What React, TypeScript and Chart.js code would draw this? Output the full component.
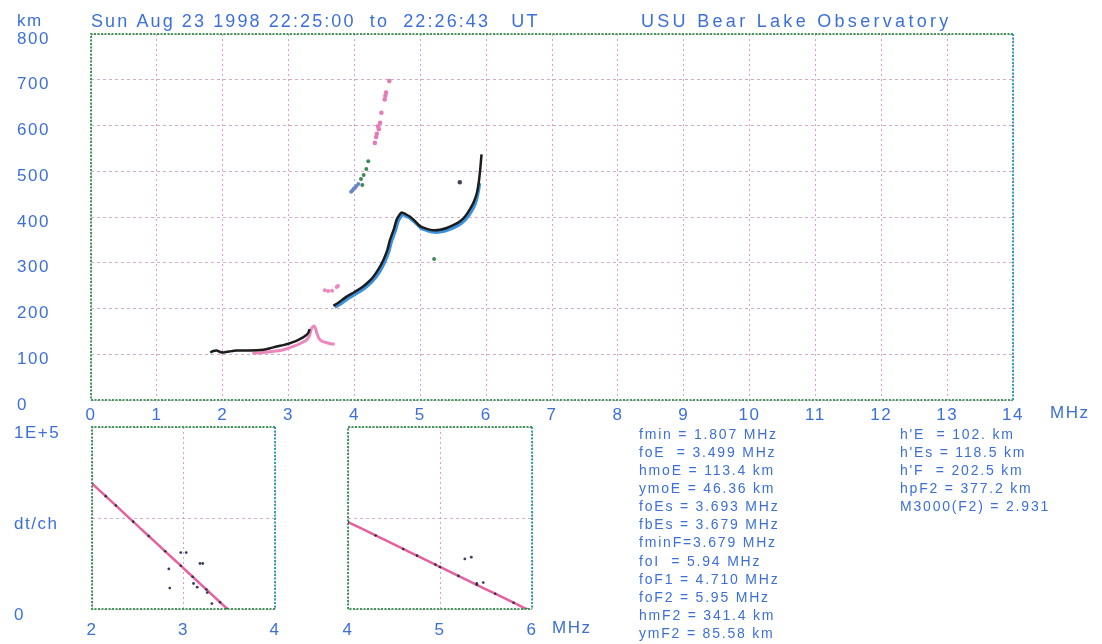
import React, { useEffect, useRef } from "react";
import { Chart, registerables } from "chart.js";
Chart.register(...registerables);

const TEXT_BLUE = "#3c70d8";
const FONT = "'Liberation Sans', Arial, sans-serif";
const FRAME_GREEN = "#3f9a57";
const FRAME_TEAL = "#2f9fb3";
const GRID_V = "rgba(214,140,205,0.85)";
const GRID_H = "rgba(200,160,190,0.85)";

// ---------- main ionogram (frequency MHz, virtual height km) ----------
const eBlackF = [1.81, 1.86, 1.91, 1.96, 2.01, 2.1, 2.21, 2.4, 2.62, 2.72, 2.82, 2.92, 3.02, 3.1, 3.17, 3.22, 3.27, 3.3, 3.32];
const eBlackH = [104, 107, 108, 105, 104, 106, 108, 108, 110, 113, 117, 120, 124, 128, 133, 137, 142, 147, 155];

const ePinkF = [2.45, 2.62, 2.75, 2.87, 2.97, 3.07, 3.17, 3.27, 3.32, 3.35, 3.39, 3.41, 3.43, 3.46, 3.5, 3.58, 3.64, 3.7];
const ePinkH = [102, 104, 106, 108, 112, 117, 123, 131, 142, 157, 162, 156, 146, 135, 129, 125, 123, 122];

const pinkLowF = [3.55, 3.6, 3.66, 3.73, 3.75];
const pinkLowH = [240, 238, 239, 247, 249];

const fBlackF = [3.68, 3.75, 3.88, 4.0, 4.13, 4.22, 4.29, 4.37, 4.44, 4.5, 4.54, 4.6, 4.64, 4.69, 4.72, 4.78, 4.84, 4.92, 4.995, 5.1, 5.2, 5.3, 5.4, 5.5, 5.6, 5.68, 5.75, 5.81, 5.86, 5.89, 5.91, 5.93];
const fBlackH = [206, 212, 226, 236, 248, 259, 270, 287, 306, 328, 350, 374, 394, 406, 410, 406, 401, 391, 380, 374, 371, 372, 376, 382, 390, 401, 416, 432, 453, 478, 504, 537];

const fBlueF = [3.7, 3.78, 3.9, 4.02, 4.15, 4.24, 4.31, 4.39, 4.46, 4.52, 4.56, 4.62, 4.66, 4.71, 4.74, 4.8, 4.86, 4.94, 5.01, 5.12, 5.22, 5.32, 5.42, 5.52, 5.62, 5.7, 5.77, 5.83, 5.87, 5.9];
const fBlueH = [203, 209, 222, 232, 244, 255, 266, 283, 302, 324, 346, 370, 390, 402, 406, 401, 396, 386, 376, 370, 367, 368, 372, 378, 386, 397, 411, 428, 449, 474];

const blueDotsF = [3.95, 3.97, 3.99, 4.01, 4.03, 4.06];
const blueDotsH = [455, 458, 462, 464, 468, 472];

const greenDotsF = [4.1, 4.12, 4.14, 4.18, 4.21, 5.21];
const greenDotsH = [483, 470, 492, 505, 522, 308];

const darkDotsF = [5.6];
const darkDotsH = [476];

const pinkHighF = [4.31, 4.33, 4.34, 4.36, 4.37, 4.39, 4.41, 4.46, 4.47, 4.48, 4.53];
const pinkHighH = [562, 575, 582, 598, 592, 606, 628, 657, 665, 672, 697];

// ---------- lower panels (dt/ch, 0 .. 1E+5) ----------
const leftLineF = [2.0, 2.15, 2.26, 2.45, 2.62, 2.8, 2.97, 3.1, 3.25, 3.4, 3.48];
const leftLineV = [69000, 62000, 56900, 48000, 40100, 31700, 23800, 17700, 10700, 3700, 0];
const leftDotsF = [2.97, 3.03, 3.18, 3.21, 2.85, 3.31, 3.11, 3.15, 2.84, 3.26];
const leftDotsV = [31000, 31000, 25000, 25000, 11500, 3000, 14000, 12000, 22000, 9000];

const rightLineF = [4.0, 4.3, 4.6, 4.75, 4.95, 5.0, 5.2, 5.4, 5.6, 5.8, 5.94];
const rightLineV = [47800, 40400, 33000, 29300, 24400, 23100, 18200, 13300, 8400, 3450, 0];
const rightDotsF = [5.27, 5.34, 5.4, 5.47];
const rightDotsV = [27500, 28500, 14000, 14500];

// ---------- text ----------
const titleLeft = "Sun Aug 23 1998 22:25:00  to  22:26:43   UT";
const titleRight = "USU Bear Lake Observatory";
const paramsLeft = [
  "fmin = 1.807 MHz",
  "foE  = 3.499 MHz",
  "hmoE = 113.4 km",
  "ymoE = 46.36 km",
  "foEs = 3.693 MHz",
  "fbEs = 3.679 MHz",
  "fminF=3.679 MHz",
  "foI  = 5.94 MHz",
  "foF1 = 4.710 MHz",
  "foF2 = 5.95 MHz",
  "hmF2 = 341.4 km",
  "ymF2 = 85.58 km",
];
const paramsRight = [
  "h'E  = 102. km",
  "h'Es = 118.5 km",
  "h'F  = 202.5 km",
  "hpF2 = 377.2 km",
  "M3000(F2) = 2.931",
];
const dtLabels: Record<number, string> = { 0: "0", 50000: "dt/ch", 100000: "1E+5" };

const pts = (xs: number[], ys: number[]) => xs.map((x, i) => ({ x, y: ys[i] }));

const spacingPlugin = {
  id: "spacing",
  beforeDraw(chart: any) {
    (chart.ctx as any).letterSpacing = "1.5px";
  },
};

const framePlugin = {
  id: "frame",
  afterDraw(chart: any) {
    const { ctx, chartArea } = chart;
    const { left, top, right, bottom } = chartArea;
    ctx.save();
    ctx.lineWidth = 2;
    ctx.setLineDash([2, 1.5]);
    ctx.strokeStyle = FRAME_GREEN;
    ctx.beginPath();
    ctx.moveTo(right, top);
    ctx.lineTo(left, top);
    ctx.lineTo(left, bottom);
    ctx.lineTo(right, bottom);
    ctx.stroke();
    ctx.strokeStyle = FRAME_TEAL;
    ctx.beginPath();
    ctx.moveTo(right, top);
    ctx.lineTo(right, bottom);
    ctx.stroke();
    ctx.restore();
  },
};

const mainTextPlugin = {
  id: "mainText",
  afterDraw(chart: any) {
    const ctx = chart.ctx as CanvasRenderingContext2D;
    ctx.save();
    ctx.fillStyle = TEXT_BLUE;
    ctx.textBaseline = "middle";
    ctx.textAlign = "left";
    ctx.font = `18px ${FONT}`;
    (ctx as any).letterSpacing = "2.1px";
    ctx.fillText(titleLeft, 91, 22);
    (ctx as any).letterSpacing = "3.3px";
    ctx.fillText(titleRight, 641, 22);
    (ctx as any).letterSpacing = "1.5px";
    ctx.font = `17px ${FONT}`;
    ctx.fillText("km", 17, 21);
    ctx.fillText("MHz", 1050, 413);
    (ctx as any).letterSpacing = "1.8px";
    ctx.font = `14px ${FONT}`;
    paramsLeft.forEach((s, i) => ctx.fillText(s, 639, 435 + i * 18.1));
    paramsRight.forEach((s, i) => ctx.fillText(s, 900, 435 + i * 18.1));
    ctx.restore();
  },
};

const smallTextPlugin = {
  id: "smallText",
  afterDraw(chart: any) {
    const ctx = chart.ctx as CanvasRenderingContext2D;
    ctx.save();
    ctx.fillStyle = TEXT_BLUE;
    ctx.textBaseline = "middle";
    ctx.textAlign = "left";
    (ctx as any).letterSpacing = "1.5px";
    ctx.font = `17px ${FONT}`;
    ctx.fillText("MHz", 222, 228);
    ctx.restore();
  },
};

const tickFont = { family: FONT, size: 17 };

function lineDs(data: any[], color: string, width: number, order: number) {
  return {
    data,
    showLine: true,
    borderColor: color,
    backgroundColor: color,
    borderWidth: width,
    pointRadius: 0,
    tension: 0.2,
    order,
  };
}
function dotDs(data: any[], color: string, r: number, order: number) {
  return {
    data,
    showLine: false,
    borderColor: color,
    backgroundColor: color,
    pointRadius: r,
    borderWidth: 0,
    order,
  };
}

function MainChart() {
  const ref = useRef<HTMLCanvasElement>(null);
  useEffect(() => {
    const chart = new Chart(ref.current!, {
      type: "scatter",
      data: {
        datasets: [
          lineDs(pts(eBlackF, eBlackH), "#1c1c1c", 2.5, 1),
          lineDs(pts(ePinkF, ePinkH), "#ec86bd", 3, 3),
          dotDs(pts(pinkLowF, pinkLowH), "#ec86bd", 2, 2),
          lineDs(pts(fBlackF, fBlackH), "#1c1c1c", 2.5, 1),
          lineDs(pts(fBlueF, fBlueH), "#3a92dc", 3.5, 4),
          dotDs(pts(blueDotsF, blueDotsH), "#6a86c8", 2, 2),
          dotDs(pts(greenDotsF, greenDotsH), "#3f8a5a", 2, 2),
          dotDs(pts(darkDotsF, darkDotsH), "#404060", 2.2, 2),
          dotDs(pts(pinkHighF, pinkHighH), "#e37cb4", 2.3, 2),
        ] as any,
      },
      options: {
        animation: false,
        responsive: false,
        events: [],
        layout: { padding: { left: 17, top: 34, right: 89, bottom: 214 } },
        plugins: { legend: { display: false }, tooltip: { enabled: false } },
        scales: {
          x: {
            type: "linear",
            min: 0,
            max: 14,
            afterFit: (s: any) => { s.height = 30; },
            ticks: { stepSize: 1, color: TEXT_BLUE, font: tickFont, padding: 5, maxRotation: 0, autoSkip: false },
            grid: { color: GRID_V, drawTicks: false, lineWidth: 1 },
            border: { display: false, dash: [2, 3] },
          },
          y: {
            type: "linear",
            min: 0,
            max: 800,
            afterFit: (s: any) => { s.width = 74; },
            ticks: { stepSize: 100, color: TEXT_BLUE, font: tickFont, crossAlign: "far", labelOffset: 5, padding: 0 },
            grid: { color: GRID_H, drawTicks: false, lineWidth: 1 },
            border: { display: false, dash: [3, 3] },
          },
        },
      } as any,
      plugins: [spacingPlugin, framePlugin, mainTextPlugin],
    });
    return () => chart.destroy();
  }, []);
  return <canvas ref={ref} width={1102} height={644} style={{ position: "absolute", left: 0, top: 0, width: 1102, height: 644 }} />;
}

function SmallChart(props: {
  left: number; width: number; fmin: number; fmax: number;
  lineF: number[]; lineV: number[]; dotsF: number[]; dotsV: number[];
  padLeft: number; padRight: number; showY: boolean; extra?: any;
}) {
  const ref = useRef<HTMLCanvasElement>(null);
  useEffect(() => {
    const plugins: any[] = [spacingPlugin, framePlugin];
    if (props.extra) plugins.push(props.extra);
    const chart = new Chart(ref.current!, {
      type: "scatter",
      data: {
        datasets: [
          dotDs(pts(props.lineF, props.lineV), "#303040", 1.3, 1),
          lineDs(pts(props.lineF, props.lineV), "#e5609f", 2.5, 2),
          dotDs(pts(props.dotsF, props.dotsV), "#354060", 1.4, 1),
        ] as any,
      },
      options: {
        animation: false,
        responsive: false,
        events: [],
        layout: { padding: { left: props.padLeft, top: 27, right: props.padRight, bottom: 0 } },
        plugins: { legend: { display: false }, tooltip: { enabled: false } },
        scales: {
          x: {
            type: "linear",
            min: props.fmin,
            max: props.fmax,
            afterFit: (s: any) => { s.height = 35; },
            ticks: { stepSize: 1, color: TEXT_BLUE, font: tickFont, padding: 11, maxRotation: 0, autoSkip: false },
            grid: { color: GRID_V, drawTicks: false, lineWidth: 1 },
            border: { display: false, dash: [2, 3] },
          },
          y: {
            type: "linear",
            min: 0,
            max: 100000,
            afterFit: (s: any) => { s.width = props.showY ? 78 : 0; },
            ticks: {
              display: props.showY,
              stepSize: 50000, color: TEXT_BLUE, font: tickFont, crossAlign: "far", labelOffset: 6, padding: 0,
              callback: (v: any) => dtLabels[v as number] ?? "",
            },
            grid: { color: GRID_H, drawTicks: false, lineWidth: 1 },
            border: { display: false, dash: [3, 3] },
          },
        },
      } as any,
      plugins,
    });
    return () => chart.destroy();
  }, []);
  return <canvas ref={ref} width={props.width} height={244} style={{ position: "absolute", left: props.left, top: 400, width: props.width, height: 244 }} />;
}

export default function App() {
  return (
    <div style={{ position: "absolute", left: 0, top: 0, width: 1102, height: 644, background: "#ffffff", overflow: "hidden" }}>
      <MainChart />
      <SmallChart left={0} width={320} fmin={2} fmax={4} lineF={leftLineF} lineV={leftLineV} dotsF={leftDotsF} dotsV={leftDotsV} padLeft={14} padRight={45} showY={true} />
      <SmallChart left={330} width={300} fmin={4} fmax={6} lineF={rightLineF} lineV={rightLineV} dotsF={rightDotsF} dotsV={rightDotsV} padLeft={18} padRight={98} showY={false} extra={smallTextPlugin} />
    </div>
  );
}
